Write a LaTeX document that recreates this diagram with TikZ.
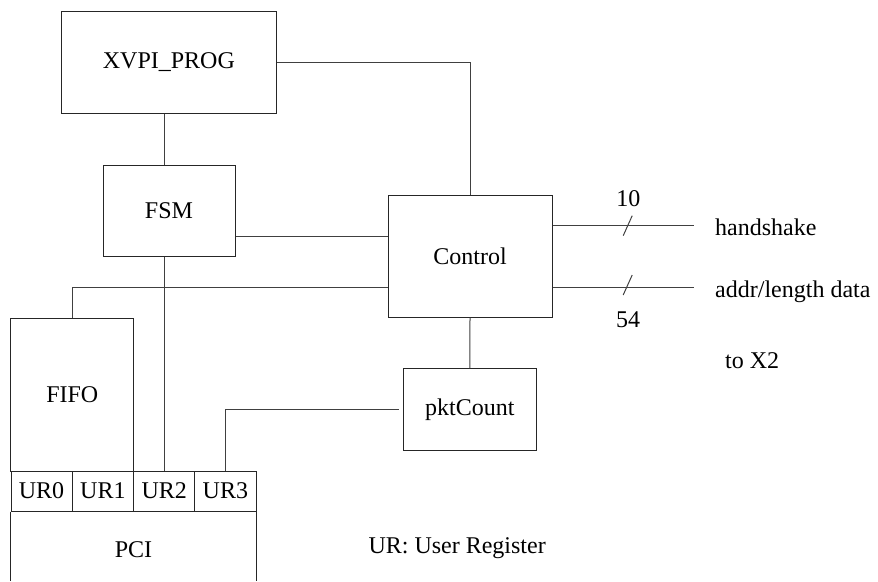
\documentclass[tikz,border=0pt]{standalone}
\usepackage{fontspec}
\setmainfont{Liberation Serif}
\usetikzlibrary{calc}
\begin{document}
\begin{tikzpicture}[x=1pt,y=-1pt,
  box/.style={draw=black!85, line width=1pt, rectangle, inner sep=0pt,
              font=\fontsize{24}{28}\selectfont},
  wire/.style={draw=black!75, line width=1pt},
  lbl/.style={inner sep=0pt, font=\fontsize{24}{28}\selectfont}]
\useasboundingbox (0,0) rectangle (878,581);

% functional blocks
\node[box, minimum width=214.5pt, minimum height=101.6pt] (xvpi) at (168.9,62.3) {XVPI\_PROG};
\node[box, minimum width=132pt, minimum height=91pt] (fsm) at (169,210.5) {FSM};
\node[box, minimum width=164pt, minimum height=122pt] (ctrl) at (470,256) {Control};
\node[box, minimum width=132.3pt, minimum height=81.3pt] (pkt) at (469.9,409.4) {pktCount};
\node[box, minimum width=122.7pt, minimum height=153pt] (fifo) at (72.3,394.5) {FIFO};

% user registers on top of the PCI block
\node[box, minimum width=61pt, minimum height=40pt] (ur0) at (41.5,491) {UR0};
\node[box, minimum width=61.7pt, minimum height=40pt] (ur1) at (102.85,491) {UR1};
\node[box, minimum width=61pt, minimum height=40pt] (ur2) at (164.2,491) {UR2};
\node[box, minimum width=61.3pt, minimum height=40pt] (ur3) at (225.35,491) {UR3};

% PCI block, open at the bottom
\coordinate (pcibot) at (0,581);
\draw[box] (ur0.south west) -- (ur0.south west |- pcibot);
\draw[box] (ur3.south east) -- (ur3.south east |- pcibot);
\node[lbl] (pci) at (133.5,549.5) {PCI};

% connections
\coordinate (ya) at (0,236);
\coordinate (yb) at (0,287);
\draw[wire] (xvpi.south -| ur2.north) -- (fsm.north -| ur2.north);
\draw[wire] (fsm.south -| ur2.north) -- (ur2.north);
\draw[wire] (xvpi.east) -| (ctrl.north);
\draw[wire] (fsm.east |- ya) -- (ctrl.west |- ya);
\draw[wire] (ctrl.west |- yb) -| (fifo.north);
\draw[wire] (ctrl.south) -- (pkt.north);
\draw[wire] ([xshift=-4.5pt]pkt.west) -| (ur3.north);

% outgoing buses
\coordinate (hsend) at (694,225.7);
\coordinate (adend) at (694,287);
\draw[wire] (ctrl.east |- hsend) -- (hsend);
\draw[wire] (ctrl.east |- adend) -- (adend);
\coordinate (s1) at (627.7,225.7);
\coordinate (s2) at (627.7,285);
\draw[wire] ($(s1)+(-4.5,10)$) -- ($(s1)+(4.5,-10)$);
\draw[wire] ($(s2)+(-4.5,10)$) -- ($(s2)+(4.5,-10)$);
\node[lbl, anchor=base] (w1) at (628.3,206) {10};
\node[lbl, anchor=base] (w2) at (628,327.7) {54};

% bus labels and legend
\node[lbl, anchor=base west] (hs) at (715,235) {handshake};
\node[lbl, anchor=base west] (ad) at (715,297) {addr/length data};
\node[lbl, anchor=base west] (x2) at (725,368.3) {to X2};
\node[lbl, anchor=base west] (legend) at (368.3,553.3) {UR: User Register};
\end{tikzpicture}
\end{document}
